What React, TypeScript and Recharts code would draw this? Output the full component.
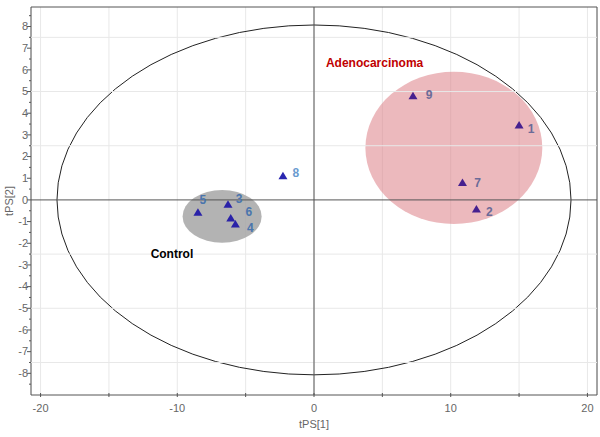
import React from 'react';
import {
  ScatterChart,
  Scatter,
  XAxis,
  YAxis,
  CartesianGrid,
  ReferenceLine,
  ReferenceArea,
  ReferenceDot,
} from 'recharts';

// ---- data ----
const sampleIds = ['1', '2', '3', '4', '5', '6', '7', '8', '9'];
const tPS1 = [15.0, 11.88, -6.29, -5.75, -8.49, -6.09, 10.86, -2.27, 7.24];
const tPS2 = [3.46, -0.42, -0.2, -1.11, -0.57, -0.84, 0.8, 1.12, 4.8];
const sampleGroup = ['A', 'A', 'C', 'C', 'C', 'C', 'A', 'O', 'A'];

// group ellipses: centre x, centre y, radius x, radius y (data units)
const groupNames = ['Adenocarcinoma', 'Control'];
const groupCx = [10.23, -6.72];
const groupCy = [2.4, -0.76];
const groupRx = [6.47, 2.89];
const groupRy = [3.51, 1.22];
const groupLabelX = [0.87, -11.95];
const groupLabelY = [6.33, -2.49];

// Hotelling T2 ellipse radii
const t2Rx = 18.8;
const t2Ry = 8.07;

const xTicks = [-20, -15, -10, -5, 0, 5, 10, 15, 20];
const xLabelTicks = [-20, -10, 0, 10, 20];
const yTicks = [
  -8.5, -8, -7.5, -7, -6.5, -6, -5.5, -5, -4.5, -4, -3.5, -3, -2.5, -2, -1.5, -1, -0.5, 0,
  0.5, 1, 1.5, 2, 2.5, 3, 3.5, 4, 4.5, 5, 5.5, 6, 6.5, 7, 7.5, 8, 8.5,
];
const yGrid = [-7.5, -5, -2.5, 2.5, 5, 7.5];
const xDomain = [-20.7, 20.7];
const yDomain = [-9, 8.9];

// ---- styles ----
const FONT = '"Liberation Sans", Arial, sans-serif';
const markerColor: Record<string, string> = { A: '#46208f', C: '#2a22a8', O: '#2a26b0' };
const labelColor: Record<string, string> = { A: '#6b6b98', C: '#4a75ad', O: '#6a9bd0' };
const labelOffset: Record<string, [number, number]> = {
  '1': [12, 4],
  '2': [13, 3],
  '3': [11, -5],
  '4': [15, 4],
  '5': [5, -12],
  '6': [18, -6],
  '7': [15, 0],
  '8': [13, -3],
  '9': [16, -1],
};
const groupFill = ['#dd7f87', '#a6a6a6'];
const groupOpacity = [0.55, 0.85];
const groupTextColor = ['#c00000', '#000000'];

const data = sampleIds.map((id, i) => ({ id, x: tPS1[i], y: tPS2[i], group: sampleGroup[i] }));

const YTick = (props: any) => {
  const { x, y, payload } = props;
  const v = payload.value as number;
  const major = Number.isInteger(v);
  return (
    <g>
      <line x1={x - (major ? 4 : 2)} x2={x} y1={y} y2={y} stroke="#555" strokeWidth={1} />
      {major && (
        <text x={x - 3} y={y} dy="0.35em" textAnchor="end" fontSize={11} fill="#666" fontFamily={FONT}>
          {v}
        </text>
      )}
    </g>
  );
};

const XTick = (props: any) => {
  const { x, y, payload } = props;
  const v = payload.value as number;
  const show = xLabelTicks.includes(v);
  return (
    <g>
      <line x1={x} x2={x} y1={y - 2} y2={y + 2} stroke="#555" strokeWidth={1} />
      {show && (
        <text x={x} y={y + 13} dy="0.35em" textAnchor="middle" fontSize={11} fill="#666" fontFamily={FONT}>
          {v}
        </text>
      )}
    </g>
  );
};

const Marker = (props: any) => {
  const { cx, cy, payload } = props;
  if (cx == null || cy == null) return null;
  const off = labelOffset[payload.id] || [12, 0];
  return (
    <g>
      <polygon
        points={`${cx},${cy - 4} ${cx - 4.5},${cy + 3.5} ${cx + 4.5},${cy + 3.5}`}
        fill={markerColor[payload.group]}
      />
      <text
        x={cx + off[0]}
        y={cy + off[1]}
        dy="0.35em"
        textAnchor="middle"
        fontSize={12}
        fontWeight="bold"
        fill={labelColor[payload.group]}
        fontFamily={FONT}
      >
        {payload.id}
      </text>
    </g>
  );
};

const makeEllipse = (fill: string, opacity: number, stroke: string) => (p: any) => {
  const { x, y, width, height } = p;
  if (x == null || width == null) return null;
  return (
    <ellipse
      cx={x + width / 2}
      cy={y + height / 2}
      rx={Math.abs(width / 2)}
      ry={Math.abs(height / 2)}
      fill={fill}
      fillOpacity={opacity}
      stroke={stroke}
      strokeWidth={1}
    />
  );
};

const makeGroupText = (text: string, color: string) => (p: any) => {
  const { cx, cy } = p;
  if (cx == null) return null;
  return (
    <text x={cx} y={cy} dy="0.35em" textAnchor="start" fontSize={12} fontWeight="bold" fill={color} fontFamily={FONT}>
      {text}
    </text>
  );
};

export default function App() {
  return (
    <div style={{ position: 'absolute', left: 0, top: 0, background: '#fff' }}>
      <ScatterChart width={600} height={437} margin={{ top: 7, right: 3, bottom: 0, left: 0 }}>
        <CartesianGrid horizontal={false} vertical stroke="#e8e8e8" strokeWidth={1} />
        {yGrid.map((g) => (
          <ReferenceLine key={'g' + g} y={g} stroke="#e8e8e8" strokeWidth={1} />
        ))}
        <XAxis
          type="number"
          dataKey="x"
          domain={xDomain}
          ticks={xTicks}
          allowDataOverflow
          height={42}
          axisLine={false}
          tickLine={false}
          tickSize={0}
          tickMargin={0}
          interval={0}
          tick={(p: any) => <XTick {...p} />}
          label={(p: any) => {
            const vb = p.viewBox || {};
            return (
              <text
                x={(vb.x ?? 31) + (vb.width ?? 566) / 2}
                y={(vb.y ?? 395) + 29}
                dy="0.35em"
                textAnchor="middle"
                fontSize={11}
                fill="#666"
                fontFamily={FONT}
              >
                tPS[1]
              </text>
            );
          }}
        />
        <YAxis
          type="number"
          dataKey="y"
          domain={yDomain}
          ticks={yTicks}
          allowDataOverflow
          width={31}
          axisLine={false}
          tickLine={false}
          tickSize={0}
          tickMargin={0}
          interval={0}
          tick={(p: any) => <YTick {...p} />}
          label={(p: any) => {
            const vb = p.viewBox || {};
            const cx = (vb.x ?? 0) + 9;
            const cy = (vb.y ?? 7) + (vb.height ?? 388) / 2;
            return (
              <text
                x={cx}
                y={cy}
                dy="0.35em"
                textAnchor="middle"
                fontSize={11}
                fill="#666"
                fontFamily={FONT}
                transform={`rotate(-90 ${cx} ${cy})`}
              >
                tPS[2]
              </text>
            );
          }}
        />
        {groupNames.map((name, i) => (
          <ReferenceArea
            key={name}
            x1={groupCx[i] - groupRx[i]}
            x2={groupCx[i] + groupRx[i]}
            y1={groupCy[i] - groupRy[i]}
            y2={groupCy[i] + groupRy[i]}
            shape={makeEllipse(groupFill[i], groupOpacity[i], 'none')}
          />
        ))}
        <ReferenceArea
          x1={-t2Rx}
          x2={t2Rx}
          y1={-t2Ry}
          y2={t2Ry}
          shape={makeEllipse('none', 0, '#222')}
        />
        <ReferenceLine x={0} stroke="#555" strokeWidth={1} />
        <ReferenceLine y={0} stroke="#555" strokeWidth={1} />
        <ReferenceArea
          x1={xDomain[0]}
          x2={xDomain[1]}
          y1={yDomain[0]}
          y2={yDomain[1]}
          fill="none"
          fillOpacity={0}
          stroke="#555"
          strokeWidth={1}
          ifOverflow="visible"
        />
        {groupNames.map((name, i) => (
          <ReferenceDot
            key={'t' + name}
            x={groupLabelX[i]}
            y={groupLabelY[i]}
            r={0}
            shape={makeGroupText(name, groupTextColor[i])}
          />
        ))}
        <Scatter data={data} isAnimationActive={false} shape={(p: any) => <Marker {...p} />} />
      </ScatterChart>
    </div>
  );
}
